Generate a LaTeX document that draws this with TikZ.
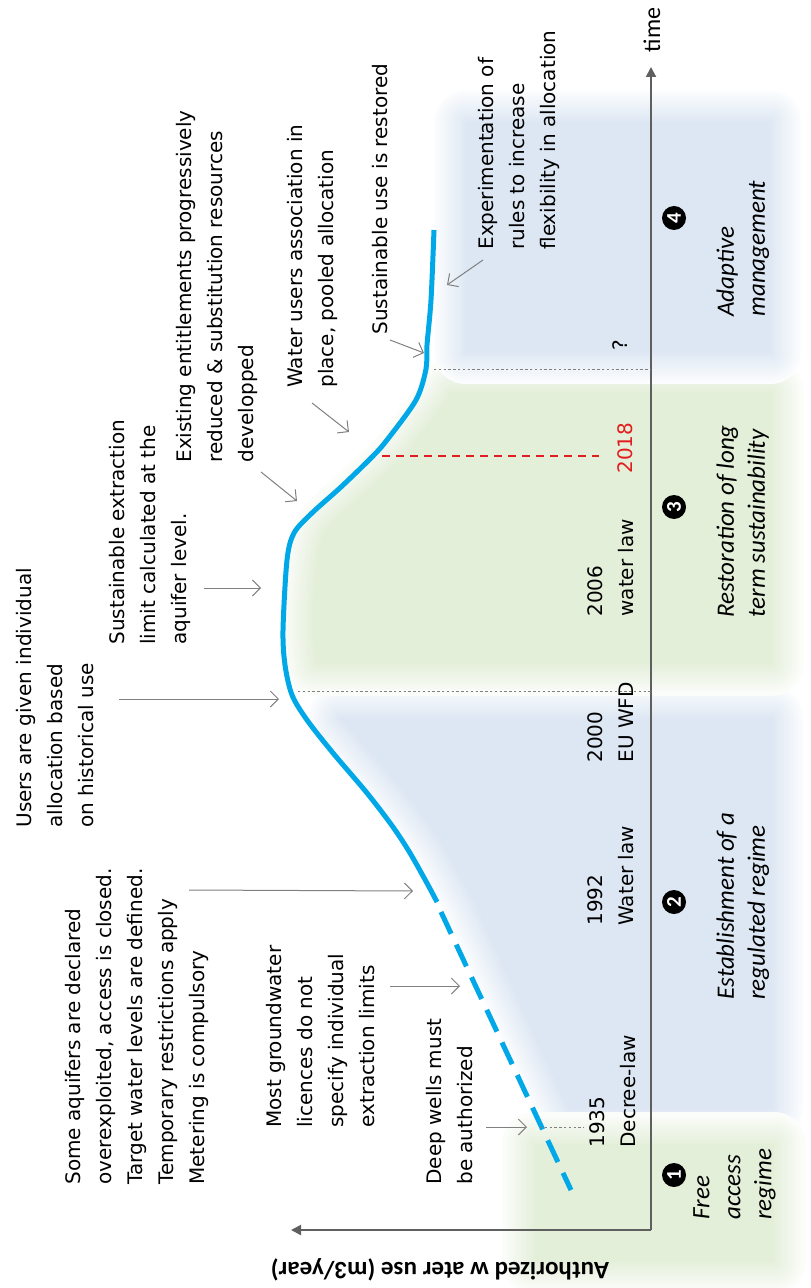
\documentclass[tikz,border=0pt]{standalone}
\usepackage{fontspec}
\setmainfont{DejaVu Sans}
\newfontfamily\calibfont{Carlito}
\usetikzlibrary{arrows.meta}

\definecolor{curveblue}{RGB}{0,168,232}
\definecolor{phaseblue}{RGB}{221,231,243}
\definecolor{phasegreen}{RGB}{228,239,218}
\definecolor{axisgray}{RGB}{95,95,95}
\definecolor{pointergray}{RGB}{128,128,128}
\definecolor{lawred}{RGB}{225,30,30}

% soft edged background patch: #1 colour, #2 path
\newcommand{\softpatch}[2]{%
  \foreach \w in {32,30,...,2}{%
    \pgfmathtruncatemacro{\shade}{100-\w*2.8}%
    \path[fill=#1!\shade, draw=#1!\shade, line width=\w pt, line join=round] #2;
  }%
  \fill[#1] #2;%
}

\tikzset{
  note/.style={font=\fontsize{10}{15.5}\selectfont, align=left, inner sep=0pt, rotate=90, anchor=north west},
  phase/.style={note, font=\calibfont\itshape\fontsize{12.5}{15.5}\selectfont},
  stage/.style={circle, fill=black, text=white, inner sep=0pt, minimum size=12pt,
    font=\calibfont\bfseries\fontsize{10.5}{10.5}\selectfont, rotate=90},
  pointer/.style={draw=pointergray, line width=0.5pt, -{Straight Barb[length=4pt, width=8pt]}},
  timeaxis/.style={draw=axisgray, line width=1pt, -{Triangle[length=5pt, width=5pt]}},
  guide/.style={draw=gray, line width=0.4pt, dash pattern=on 1.2pt off 1.2pt},
  usecurve/.style={draw=curveblue, line width=2.5pt},
}

\begin{document}
\begin{tikzpicture}[x=0.5pt, y=-0.5pt]
    \useasboundingbox (0,0) rectangle (810,1288);

    % Phases in the background
    \softpatch{phaseblue}{plot[smooth] coordinates {(340,718) (371,753) (405,793) (431,827) (448,853) (466,887) (478,910) (512,986) (541,1050) (568,1108)} -- (772,1108) -- (772,718) -- cycle}
    \softpatch{phasegreen}{plot[smooth] coordinates {(450,392) (446,400) (425,428) (402,457) (371,487) (342,513) (324,533) (317,560) (313,600) (313,640) (316,664)} -- (772,664) -- (772,392) -- cycle}
    \softpatch{phaseblue}{(466,122) rectangle (770,352)}
    \softpatch{phasegreen}{(534,1144) rectangle (774,1262)}

    % Axes
    \coordinate (origin) at (651,1230);
    \coordinate (timeend) at (651,67);
    \coordinate (useend) at (291,1230);
    \draw[timeaxis] (origin) -- (timeend);
    \draw[timeaxis] (origin) -- (useend);
    \node[font=\calibfont\fontsize{12}{12}\selectfont, rotate=90] (timelabel) at (652,30) {time};
    \node[font=\calibfont\bfseries\fontsize{12.5}{12.5}\selectfont, rotate=180] (uselabel) at (440,1270) {Authorized w ater use (m3/year)};

    % Authorized use over time
    \draw[usecurve] plot[smooth] coordinates {(437,902) (428,885) (410,853) (393,827) (367,793) (333,753) (307,720) (292,695) (285,665) (283,630) (287,560) (294,533) (312,513) (341,487) (372,457) (387,440) (416,400) (426,369) (427,345) (431,300) (434,230)};
    \draw[usecurve, dash pattern=on 12pt off 6pt] (441,912) -- (571,1190);

    % Dates
    \draw[guide] (540,1127) -- (584,1127);
    \draw[guide] (298,691) -- (origin |- 0,691);
    \draw[guide] (434,369) -- (origin |- 0,369);
    \draw[lawred, line width=0.8pt, dash pattern=on 4pt off 3pt] (382,456) -- (599,456);
    \node[note] (y1935) at (589,1148) {1935\\Decree-law};
    \node[note] (y1992) at (587,926) {1992\\Water law};
    \node[note] (y2000) at (587,763) {2000\\EU WFD};
    \node[note] (y2006) at (587,617) {2006\\water law};
    \node[note, anchor=center, text=lawred] (y2018) at (625,448) {2018};
    \node[note, anchor=center] (unknown) at (620,345) {?};

    % Phases
    \foreach \n/\y in {1/1175,2/902,3/507,4/218}
        \node[stage] (stage\n) at (674,\y) {\n};
    \node[phase] (freeaccess) at (693,1220) {Free\\access\\regime};
    \node[phase] (regulated) at (716,1000) {Establishment of a\\regulated regime};
    \node[phase] (restoration) at (716,618) {Restoration of long\\term sustainability};
    \node[phase] (adaptive) at (716,317) {Adaptive\\management};

    % Annotations
    \node[note] (aquifers) at (65,1185) {Some aquifers are declared\\overexploited, access is closed.\\Target water levels are defined.\\Temporary restrictions apply\\Metering is compulsory};
    \node[note] (licences) at (266,1128) {Most groundwater\\licences do not\\specify individual\\extraction limits};
    \node[note] (deepwells) at (426,1185) {Deep wells must\\be authorized};
    \node[note] (individual) at (16,828) {Users are given individual\\allocation based\\on historical use};
    \node[note] (limit) at (109,645) {Sustainable extraction\\limit calculated at the\\aquifer level.};
    \node[note] (entitlements) at (176,463) {Existing entitlements progressively\\reduced \& substitution resources\\developped};
    \node[note] (association) at (287,388) {Water users association in\\place, pooled allocation};
    \node[note] (restored) at (372,335) {Sustainable use is restored};
    \node[note] (flexibility) at (478,250) {Experimentation of\\rules to increase\\flexibility in allocation};

    \coordinate (aquiferstail) at (189,890);    \coordinate (aquifershead) at (413,891);
    \coordinate (licencestail) at (390,986);    \coordinate (licenceshead) at (460,986);
    \coordinate (deepwellstail) at (486,1127);  \coordinate (deepwellshead) at (527,1127);
    \coordinate (individualtail) at (119,699);  \coordinate (individualhead) at (279,699);
    \coordinate (limittail) at (204,588);       \coordinate (limithead) at (261,588);
    \coordinate (entitletail) at (261,472);     \coordinate (entitlehead) at (297,501);
    \coordinate (associationtail) at (312,403); \coordinate (associationhead) at (349,432);
    \coordinate (restoredtail) at (390,340);    \coordinate (restoredhead) at (424,353);
    \coordinate (flexibilitytail) at (483,260); \coordinate (flexibilityhead) at (447,285);
    \foreach \a in {aquifers,licences,deepwells,individual,limit,entitle,association,restored,flexibility}
        \draw[pointer] (\a tail) -- (\a head);
\end{tikzpicture}
\end{document}
